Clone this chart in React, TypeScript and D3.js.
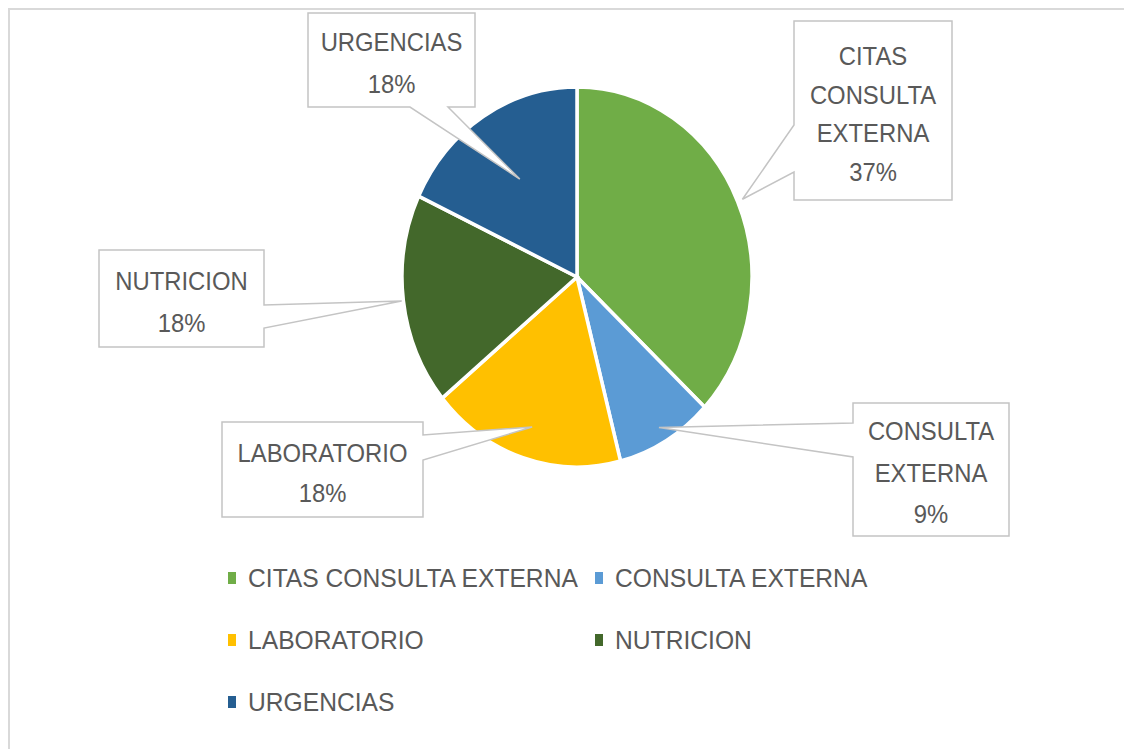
import React from 'react';
import * as d3 from 'd3';

// chart data
const categories = ['CITAS CONSULTA EXTERNA', 'CONSULTA EXTERNA', 'LABORATORIO', 'NUTRICION', 'URGENCIAS'];
const values = [37, 9, 18, 18, 18];
const colors = ['#70AD47', '#5B9BD5', '#FFC000', '#43682B', '#255E91'];

// layout of the callouts (box x, y, w, h; side of the pointer; base of the pointer; tip radius factor)
const calloutBoxes = [
  { x: 794, y: 21, w: 158, h: 179, side: 'left', a: 125, b: 172, r: 1.03, lh: 38.5 },
  { x: 853, y: 403, w: 156, h: 133, side: 'left', a: 423, b: 457, r: 0.92, lh: 41.5 },
  { x: 222, y: 422, w: 201, h: 95, side: 'right', a: 435, b: 460, r: 0.83, lh: 40 },
  { x: 99, y: 250, w: 165, h: 97, side: 'right', a: 305, b: 328, r: 1.01, lh: 42 },
  { x: 308, y: 13, w: 167, h: 94, side: 'bottom', a: 410, b: 448, r: 0.61, lh: 42 },
];

const W = 1124;
const H = 749;
const cx = 577;
const cy = 277;
const rx = 175;
const ry = 190;
const FONT = "'Liberation Sans', Arial, sans-serif";
const FS = 26.5;
const SX = 0.9;
const LEGEND_SX = 0.93;
const TEXT = '#595959';
const BORDER = '#c4c4c4';

function calloutPath(b: any, tx: number, ty: number) {
  const x0 = b.x, y0 = b.y, x1 = b.x + b.w, y1 = b.y + b.h;
  const p: [number, number][] = [[x0, y0], [x1, y0]];
  if (b.side === 'right') p.push([x1, b.a], [tx, ty], [x1, b.b]);
  p.push([x1, y1]);
  if (b.side === 'bottom') p.push([b.b, y1], [tx, ty], [b.a, y1]);
  p.push([x0, y1]);
  if (b.side === 'left') p.push([x0, b.b], [tx, ty], [x0, b.a]);
  return 'M' + p.map(d => d.join(',')).join('L') + 'Z';
}

const App = () => {
  const total = d3.sum(values);
  const pie = d3.pie<number>().sort(null).value(d => d);
  const arcs = pie(values);
  const arc = d3.arc<d3.PieArcDatum<number>>().innerRadius(0).outerRadius(rx);

  const legendRows = d3.scalePoint<number>().domain([0, 1, 2]).range([578, 702]);
  const legendCols = [228, 595];

  return (
    <svg width={W} height={H} style={{ position: 'absolute', left: 0, top: 0, background: '#fff' }}>
      {/* chart frame */}
      <path d={`M9,${H}L9,9L${W},9`} fill="none" stroke="#d9d9d9" strokeWidth={2} />

      <g transform={`translate(${cx},${cy}) scale(1,${ry / rx})`}>
        {arcs.map((d, i) => (
          <path key={i} d={arc(d) || ''} fill={colors[i]} stroke="#fff" strokeWidth={3.5}
            vectorEffect="non-scaling-stroke" />
        ))}
      </g>

      {arcs.map((d, i) => {
        const b = calloutBoxes[i];
        const mid = (d.startAngle + d.endAngle) / 2;
        const tx = cx + b.r * rx * Math.sin(mid);
        const ty = cy - b.r * ry * Math.cos(mid);
        const lines = [...categories[i].split(' '), `${Math.round((values[i] / total) * 100)}%`];
        const midY = b.y + b.h / 2 + 3;
        const first = midY - ((lines.length - 1) * b.lh) / 2 + 0.358 * FS;
        return (
          <g key={i}>
            <path d={calloutPath(b, tx, ty)} fill="#fff" stroke={BORDER} strokeWidth={1.5} />
            {lines.map((t, j) => (
              <text key={j} transform={`translate(${b.x + b.w / 2},${first + j * b.lh}) scale(${SX},1)`}
                textAnchor="middle" fontFamily={FONT} fontSize={FS} fill={TEXT}>{t}</text>
            ))}
          </g>
        );
      })}

      {categories.map((c, i) => {
        const x = legendCols[i % 2];
        const y = legendRows(Math.floor(i / 2)) as number;
        return (
          <g key={c}>
            <rect x={x} y={y - 6} width={8} height={12} fill={colors[i]} />
            <text transform={`translate(${x + 20},${y + 0.358 * FS}) scale(${LEGEND_SX},1)`}
              fontFamily={FONT} fontSize={FS} fill={TEXT}>{c}</text>
          </g>
        );
      })}
    </svg>
  );
};

export default App;
